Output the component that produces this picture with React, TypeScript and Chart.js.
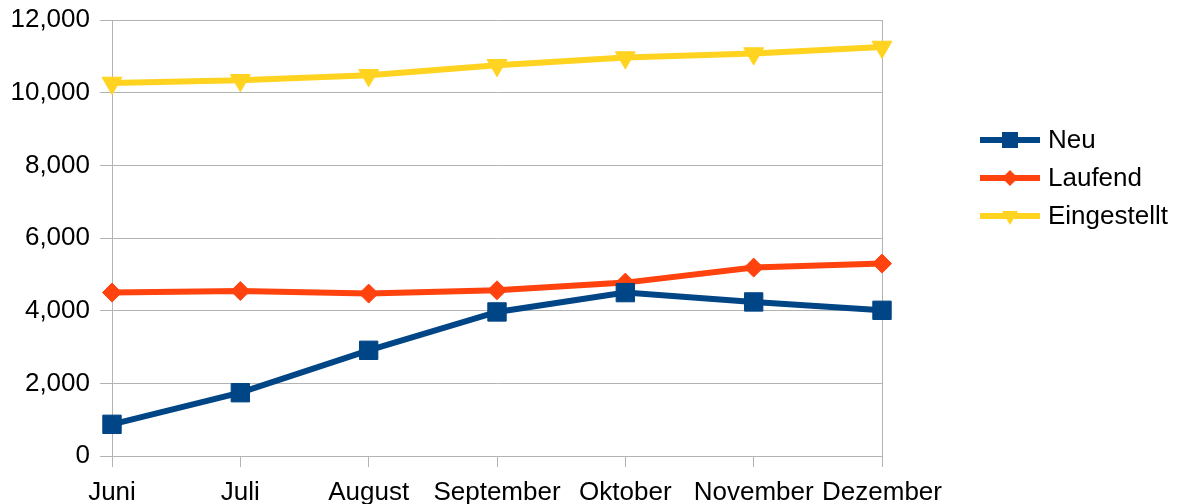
import React, { useEffect, useRef } from "react";
import { Chart, registerables } from "chart.js";

Chart.register(...registerables);

const categories = ["Juni", "Juli", "August", "September", "Oktober", "November", "Dezember"];
const neuValues = [872, 1742, 2909, 3965, 4497, 4240, 4010];
const laufendValues = [4497, 4541, 4470, 4561, 4772, 5185, 5295];
const eingestelltValues = [10267, 10341, 10479, 10755, 10966, 11076, 11258];
const seriesNames = ["Neu", "Laufend", "Eingestellt"];
const seriesColors = ["#004586", "#ff420e", "#ffd320"];

const FONT = "Liberation Sans, Arial, sans-serif";
const GRID = "#b3b3b3";

const legendPlugin = {
  id: "customLegend",
  afterDraw(chart: any) {
    const ctx = chart.ctx;
    const rows = [140, 178, 216];
    ctx.save();
    seriesNames.forEach((name, i) => {
      const y = rows[i];
      const c = seriesColors[i];
      ctx.strokeStyle = c;
      ctx.fillStyle = c;
      ctx.lineWidth = 6;
      ctx.beginPath();
      ctx.moveTo(980, y);
      ctx.lineTo(1040, y);
      ctx.stroke();
      const cx = 1010;
      ctx.beginPath();
      if (i === 0) {
        ctx.rect(cx - 8, y - 8, 16, 16);
      } else if (i === 1) {
        ctx.moveTo(cx, y - 8);
        ctx.lineTo(cx + 8, y);
        ctx.lineTo(cx, y + 8);
        ctx.lineTo(cx - 8, y);
        ctx.closePath();
      } else {
        ctx.moveTo(cx - 8, y - 5);
        ctx.lineTo(cx + 8, y - 5);
        ctx.lineTo(cx, y + 9);
        ctx.closePath();
      }
      ctx.fill();
      ctx.fillStyle = "#000";
      ctx.font = `26px ${FONT}`;
      ctx.textBaseline = "middle";
      ctx.textAlign = "left";
      ctx.fillText(name, 1048, y + 1);
    });
    ctx.restore();
  },
};

export default function App() {
  const ref = useRef<HTMLCanvasElement>(null);

  useEffect(() => {
    if (!ref.current) return;
    const last = categories.length - 1;
    const chart = new Chart(ref.current, {
      type: "line",
      data: {
        labels: categories,
        datasets: [
          {
            label: seriesNames[0],
            data: neuValues,
            borderColor: seriesColors[0],
            backgroundColor: seriesColors[0],
            borderWidth: 6,
            pointStyle: "rect",
            pointRadius: 13,
            pointBorderWidth: 1,
            pointBorderColor: seriesColors[0],
            pointBackgroundColor: seriesColors[0],
            tension: 0,
          },
          {
            label: seriesNames[1],
            data: laufendValues,
            borderColor: seriesColors[1],
            backgroundColor: seriesColors[1],
            borderWidth: 6,
            pointStyle: "rectRot",
            pointRadius: 9.5,
            pointBorderWidth: 1,
            pointBorderColor: seriesColors[1],
            pointBackgroundColor: seriesColors[1],
            tension: 0,
          },
          {
            label: seriesNames[2],
            data: eingestelltValues,
            borderColor: seriesColors[2],
            backgroundColor: seriesColors[2],
            borderWidth: 6,
            pointStyle: "triangle",
            pointRotation: 180,
            pointRadius: 11.5,
            pointBorderWidth: 1,
            pointBorderColor: seriesColors[2],
            pointBackgroundColor: seriesColors[2],
            tension: 0,
          },
        ],
      },
      options: {
        responsive: false,
        animation: false,
        devicePixelRatio: 1,
        layout: { padding: { left: 0, top: 20, right: 302, bottom: 0 } },
        plugins: {
          legend: { display: false },
          tooltip: { enabled: false },
        },
        scales: {
          x: {
            offset: false,
            grid: {
              color: (c: any) => (c.index === last ? GRID : "rgba(0,0,0,0)"),
              tickColor: GRID,
              tickLength: 11,
              lineWidth: 1,
            },
            border: { display: true, color: GRID },
            ticks: {
              color: "#000",
              font: { family: FONT, size: 26 },
              padding: 10,
              maxRotation: 0,
              autoSkip: false,
            },
            afterFit: (s: any) => {
              s.height = 48;
              s.paddingLeft = 0;
              s.paddingRight = 0;
            },
          },
          y: {
            min: 0,
            max: 12000,
            grid: { color: GRID, tickColor: GRID, tickLength: 12, lineWidth: 1 },
            border: { display: true, color: GRID },
            ticks: {
              stepSize: 2000,
              color: "#000",
              font: { family: FONT, size: 26 },
              padding: 10,
              callback: (v: any) => Number(v).toLocaleString("en-US"),
            },
            afterFit: (s: any) => {
              s.width = 112;
              s.paddingTop = 0;
              s.paddingBottom = 0;
            },
          },
        },
      },
      plugins: [legendPlugin],
    });
    return () => chart.destroy();
  }, []);

  return (
    <div style={{ position: "fixed", left: 0, top: 0, width: 1184, height: 504, background: "#fff" }}>
      <canvas ref={ref} width={1184} height={504} style={{ display: "block" }} />
    </div>
  );
}
